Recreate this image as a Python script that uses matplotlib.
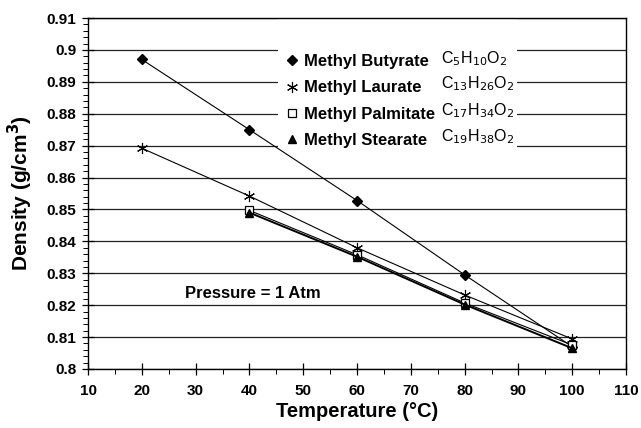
import numpy as np
import matplotlib.pyplot as plt
from matplotlib.patches import Rectangle
from matplotlib.ticker import MultipleLocator

plt.rcParams['font.family'] = ['Liberation Sans', 'DejaVu Sans']

# temperatures (degC)
T_SHORT = [20, 40, 60, 80, 100]
T_LONG = [40, 60, 80, 100]

# densities (g/cm3)
BUTYRATE = [0.897, 0.875, 0.8528, 0.8295, 0.807]
LAURATE = [0.8692, 0.8542, 0.838, 0.8232, 0.8094]
PALMITATE = [0.8497, 0.8358, 0.8207, 0.8075]
STEARATE = [0.849, 0.8352, 0.8202, 0.8065]

NAMES = ['Methyl Butyrate', 'Methyl Laurate', 'Methyl Palmitate', 'Methyl Stearate']
FORMULAS = [r'C$_5$H$_{10}$O$_2$', r'C$_{13}$H$_{26}$O$_2$',
            r'C$_{17}$H$_{34}$O$_2$', r'C$_{19}$H$_{38}$O$_2$']
Y_LABELS = ['0.8', '0.81', '0.82', '0.83', '0.84', '0.85', '0.86',
            '0.87', '0.88', '0.89', '0.9', '0.91']

fig = plt.figure(figsize=(6.41, 4.28), dpi=100)
ax = fig.add_axes([0.1373, 0.1379, 0.8393, 0.8200])

ax.plot(T_SHORT, BUTYRATE, color='black', lw=0.8, marker='D', ms=5.5,
        mfc='black', mec='black', label=NAMES[0], zorder=3)
ax.plot(T_SHORT, LAURATE, color='black', lw=0.8, marker=(6, 2, 0), ms=8,
        mec='black', mew=0.8, label=NAMES[1], zorder=3)
ax.plot(T_LONG, PALMITATE, color='black', lw=0.8, marker='s', ms=5.5,
        mfc='white', mec='black', mew=0.9, label=NAMES[2], zorder=3)
ax.plot(T_LONG, STEARATE, color='black', lw=1.4, marker='^', ms=5.5,
        mfc='black', mec='black', label=NAMES[3], zorder=3)

ax.set_xlim(10, 110)
ax.set_ylim(0.80, 0.91)
ax.xaxis.set_major_locator(MultipleLocator(10))
ax.xaxis.set_minor_locator(MultipleLocator(5))
ax.yaxis.set_minor_locator(MultipleLocator(0.002))
ax.set_yticks(np.arange(0.80, 0.911, 0.01))
ax.set_yticklabels(Y_LABELS)
ax.tick_params(axis='both', which='major', direction='inout', length=9, width=0.9,
               labelsize=11)
ax.tick_params(axis='both', which='minor', direction='out', length=3.5, width=0.7)
ax.tick_params(axis='y', pad=4)
ax.tick_params(axis='x', pad=6)
for lab in ax.get_xticklabels() + ax.get_yticklabels():
    lab.set_fontweight('bold')

ax.grid(axis='y', which='major', color='#222222', lw=0.9)
ax.set_axisbelow(True)
for sp in ax.spines.values():
    sp.set_linewidth(1.0)

ax.set_xlabel('Temperature (\u00b0C)', fontsize=14.5, fontweight='bold', labelpad=3)
ax.set_ylabel('Density (g/cm$^\\mathbf{3}$)', fontsize=15, fontweight='bold', labelpad=8)

# white block behind the legend (hides the gridlines)
ax.add_patch(Rectangle((0.353, 0.624), 0.445, 0.372, transform=ax.transAxes,
                       facecolor='white', edgecolor='none', zorder=1))

leg = ax.legend(loc='upper left', bbox_to_anchor=(0.370, 0.897), frameon=False,
                prop={'weight': 'bold', 'size': 12}, handlelength=0.6,
                handletextpad=0.4, labelspacing=0.67, borderpad=0.0,
                borderaxespad=0.0)
for h in leg.legend_handles:
    h.set_linestyle('none')

# formulas to the right of the legend names
ys = [0.884, 0.813, 0.736, 0.662]
for y, f in zip(ys, FORMULAS):
    ax.text(0.656, y, f, transform=ax.transAxes, fontsize=11.5, va='center',
            zorder=4)

ax.text(28.0, 0.8238, 'Pressure = 1 Atm', fontsize=12, fontweight='bold', va='center')

fig.savefig('out.png', dpi=100)
